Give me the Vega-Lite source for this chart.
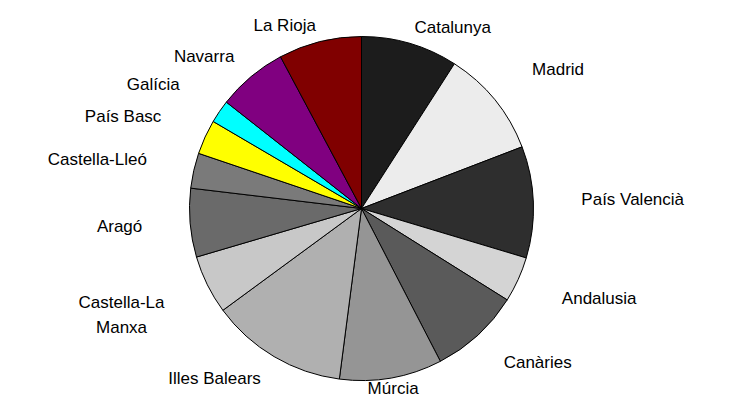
{
  "$schema": "https://vega.github.io/schema/vega-lite/v6.json",
  "width": 723,
  "height": 389,
  "autosize": "none",
  "padding": {"left": 0, "top": 14, "right": 10, "bottom": 0},
  "background": "white",
  "view": {"stroke": null},
  "data": {
    "values": [
      {"region": "Catalunya", "share": 32.7, "rank": 1},
      {"region": "Madrid", "share": 36.3, "rank": 2},
      {"region": "País Valencià", "share": 37.7, "rank": 3},
      {"region": "Andalusia", "share": 15.4, "rank": 4},
      {"region": "Canàries", "share": 30.6, "rank": 5},
      {"region": "Múrcia", "share": 34.7, "rank": 6},
      {"region": "Illes Balears", "share": 46.3, "rank": 7},
      {"region": "Castella-La Manxa", "share": 19.9, "rank": 8},
      {"region": "Aragó", "share": 23.2, "rank": 9},
      {"region": "Castella-Lleó", "share": 11.9, "rank": 10},
      {"region": "País Basc", "share": 11.7, "rank": 11},
      {"region": "Galícia", "share": 7.8, "rank": 12},
      {"region": "Navarra", "share": 23.7, "rank": 13},
      {"region": "La Rioja", "share": 28.1, "rank": 14}
    ]
  },
  "encoding": {
    "theta": {"field": "share", "type": "quantitative", "stack": true},
    "order": {"field": "rank", "type": "quantitative"},
    "detail": {"field": "region", "type": "nominal"}
  },
  "layer": [
    {
      "mark": {"type": "arc", "outerRadius": 172, "stroke": "black", "strokeWidth": 1},
      "encoding": {
        "color": {
          "field": "region",
          "type": "nominal",
          "legend": null,
          "scale": {
            "domain": ["Catalunya", "Madrid", "País Valencià", "Andalusia", "Canàries", "Múrcia", "Illes Balears", "Castella-La Manxa", "Aragó", "Castella-Lleó", "País Basc", "Galícia", "Navarra", "La Rioja"],
            "range": ["#1c1c1c", "#ececec", "#2e2e2e", "#d4d4d4", "#5a5a5a", "#959595", "#b0b0b0", "#c8c8c8", "#6a6a6a", "#7a7a7a", "#ffff00", "#00ffff", "#800080", "#800000"]
          }
        }
      }
    },
    {
      "mark": {"type": "text", "radius": 220, "align": "left", "baseline": "middle", "font": "Liberation Sans", "fontSize": 17, "fill": "black"},
      "encoding": {
        "text": {"condition": {"test": "indexof(['Madrid','País Valencià','Andalusia'], datum.region) >= 0", "field": "region", "type": "nominal"}, "value": ""}
      }
    },
    {
      "mark": {"type": "text", "radius": 210, "align": "left", "baseline": "middle", "font": "Liberation Sans", "fontSize": 17, "fill": "black"},
      "encoding": {
        "text": {"condition": {"test": "datum.region == 'Canàries'", "field": "region", "type": "nominal"}, "value": ""}
      }
    },
    {
      "mark": {"type": "text", "radius": 220, "align": "right", "baseline": "middle", "font": "Liberation Sans", "fontSize": 17, "fill": "black"},
      "encoding": {
        "text": {"condition": {"test": "indexof(['Aragó','Castella-Lleó','País Basc','Galícia'], datum.region) >= 0", "field": "region", "type": "nominal"}, "value": ""}
      }
    },
    {
      "mark": {"type": "text", "radius": 198, "align": "right", "baseline": "middle", "font": "Liberation Sans", "fontSize": 17, "fill": "black"},
      "encoding": {
        "text": {"condition": {"test": "indexof(['Illes Balears','Navarra'], datum.region) >= 0", "field": "region", "type": "nominal"}, "value": ""}
      }
    },
    {
      "mark": {"type": "text", "radius": 212, "dx": -50, "align": "center", "baseline": "middle", "lineBreak": " ", "lineHeight": 25, "font": "Liberation Sans", "fontSize": 17, "fill": "black"},
      "encoding": {
        "text": {"condition": {"test": "datum.region == 'Castella-La Manxa'", "field": "region", "type": "nominal"}, "value": ""}
      }
    },
    {
      "mark": {"type": "text", "radius": 188, "align": "left", "baseline": "middle", "font": "Liberation Sans", "fontSize": 17, "fill": "black"},
      "encoding": {
        "text": {"condition": {"test": "datum.region == 'Catalunya'", "field": "region", "type": "nominal"}, "value": ""}
      }
    },
    {
      "mark": {"type": "text", "radius": 188, "align": "right", "baseline": "middle", "font": "Liberation Sans", "fontSize": 17, "fill": "black"},
      "encoding": {
        "text": {"condition": {"test": "datum.region == 'La Rioja'", "field": "region", "type": "nominal"}, "value": ""}
      }
    },
    {
      "mark": {"type": "text", "radius": 183, "align": "center", "baseline": "middle", "font": "Liberation Sans", "fontSize": 17, "fill": "black"},
      "encoding": {
        "text": {"condition": {"test": "datum.region == 'Múrcia'", "field": "region", "type": "nominal"}, "value": ""}
      }
    }
  ]
}
